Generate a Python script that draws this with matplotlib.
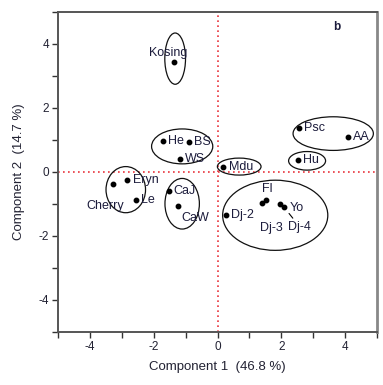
import matplotlib
matplotlib.use("Agg")
import matplotlib.pyplot as plt
from matplotlib.patches import Ellipse

plt.rcParams['font.family'] = ['Liberation Sans', 'DejaVu Sans']
plt.rcParams['axes.unicode_minus'] = False

# PCA scores
names = ['Kosing', 'He', 'BS', 'WS', 'Mdu', 'Psc', 'AA', 'Hu', 'Eryn', 'Le',
         'Cherry', 'CaJ', 'CaW', 'Dj-2', 'Fl', 'Dj-3', 'Yo', 'Dj-4']
pc1 = [-1.37, -1.72, -0.90, -1.17, 0.18, 2.55, 4.10, 2.53, -2.85, -2.56,
       -3.29, -1.53, -1.25, 0.26, 1.52, 1.41, 1.95, 2.08]
pc2 = [3.42, 0.95, 0.92, 0.39, 0.16, 1.35, 1.09, 0.37, -0.26, -0.87,
       -0.37, -0.61, -1.06, -1.36, -0.89, -0.97, -1.00, -1.10]

# cluster ellipses: centre x, centre y, width, height, angle
ell_x = [-1.33, -1.11, 0.68, 3.63, 2.81, -2.88, -1.11, 1.81]
ell_y = [3.53, 0.79, 0.16, 1.19, 0.34, -0.56, -1.00, -1.36]
ell_w = [0.65, 1.92, 1.37, 2.52, 1.16, 1.24, 1.08, 3.30]
ell_h = [1.60, 1.09, 0.53, 1.05, 0.58, 1.44, 1.58, 2.19]
ell_a = [0, 0, 0, 0, 0, 0, 0, 0]

# label offsets in pixels (dx, dy, ha)
lab_off = {
    'Kosing': (-6, 9, 'center'), 'He': (5, 0, 'left'), 'BS': (5, 0, 'left'),
    'WS': (5, 0, 'left'), 'Mdu': (6, 0, 'left'), 'Psc': (5, 0, 'left'),
    'AA': (5, 0, 'left'), 'Hu': (5, 0, 'left'), 'Eryn': (6, 0, 'left'),
    'Le': (5, 0, 'left'), 'Cherry': (11, -22, 'right'), 'CaJ': (5, 0, 'left'),
    'CaW': (4, -12, 'left'), 'Dj-2': (5, 0, 'left'), 'Fl': (1, 11, 'center'),
    'Dj-3': (9, -25, 'center'), 'Yo': (10, -4, 'left'), 'Dj-4': (16, -20, 'center'),
}

fig = plt.figure(figsize=(3.83, 3.85), dpi=100)
ax = fig.add_axes([0.152, 0.138, 0.832, 0.832])

ax.axhline(0, color='#e8343c', linestyle=(0, (1, 2)), linewidth=1.2, zorder=1)
ax.axvline(0, color='#e8343c', linestyle=(0, (1, 2)), linewidth=1.2, zorder=1)

for x, y, w, h, a in zip(ell_x, ell_y, ell_w, ell_h, ell_a):
    ax.add_patch(Ellipse((x, y), w, h, angle=a, fill=False, edgecolor='#111111', linewidth=0.9))

ax.plot(pc1, pc2, 'o', color='black', markersize=3.2, zorder=3)

txt_col = '#1c1c3c'
for n, x, y in zip(names, pc1, pc2):
    dx, dy, ha = lab_off[n]
    if n == 'Dj-4':
        ax.annotate(n, (x, y), xytext=(dx, dy), textcoords='offset pixels', ha=ha, va='center',
                    fontsize=9, color=txt_col,
                    arrowprops=dict(arrowstyle='-', color='black', lw=0.8, shrinkA=0, shrinkB=6))
    else:
        ax.annotate(n, (x, y), xytext=(dx, dy), textcoords='offset pixels', ha=ha, va='center',
                    fontsize=9, color=txt_col)

ax.text(0.863, 0.952, 'b', transform=ax.transAxes, fontsize=8.5, fontweight='bold',
        color=txt_col, va='center')

ax.set_xlim(-5, 5)
ax.set_ylim(-5, 5)
ax.set_xticks([-4, -2, 0, 2, 4])
ax.set_yticks([-4, -2, 0, 2, 4])
ax.set_xticks(range(-5, 6), minor=True)
ax.set_yticks(range(-5, 6), minor=True)
ax.tick_params(which='both', direction='out', length=4.5, width=1, color='#333333',
               labelsize=8.5, labelcolor='#222233', pad=2)
for s in ax.spines.values():
    s.set_color('#555555')
    s.set_linewidth(1.4)
ax.spines['right'].set_color('#888888')
ax.spines['right'].set_linewidth(2)

ax.set_xlabel('Component 1  (46.8 %)', fontsize=9.5, color='#222233', labelpad=6)
ax.set_ylabel('Component 2  (14.7 %)', fontsize=9.5, color='#222233', labelpad=10)

fig.savefig('out.png', dpi=100)
